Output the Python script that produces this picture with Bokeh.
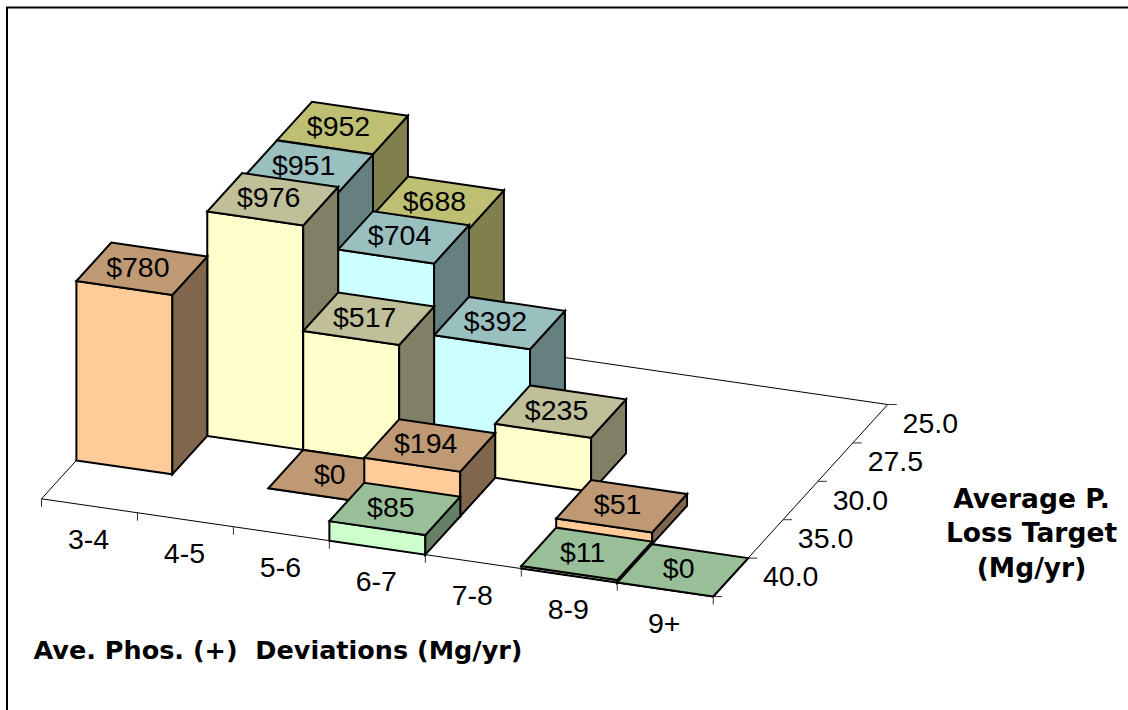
from bokeh.embed import file_html
from bokeh.models import Range1d
from bokeh.plotting import figure
from bokeh.resources import INLINE
from bokeh.core.properties import value

# Category labels along the two floor axes
deviation_bins = ["3-4", "4-5", "5-6", "6-7", "7-8", "8-9", "9+"]
loss_targets = ["40.0", "35.0", "30.0", "27.5", "25.0"]

# Cost per deviation bin, one list per loss target; None means no bar
costs_40_0 = [None, None, None, 85, None, 11, 0]
costs_35_0 = [780, None, 0, 194, None, 51, None]
costs_30_0 = [None, 976, 517, None, 235, None, None]
costs_27_5 = [None, 951, 704, 392, None, None, None]
costs_25_0 = [None, 952, 688, None, None, None, None]
series = [costs_40_0, costs_35_0, costs_30_0, costs_27_5, costs_25_0]

# Face colours per series: front, top, side
face_colors = [
    ("#CCFFCC", "#99BF99", "#668066"),
    ("#FFCC99", "#BF9973", "#80664D"),
    ("#FFFFCC", "#BFBF99", "#808066"),
    ("#CCFFFF", "#99BFBF", "#668080"),
    ("#FFFF99", "#BFBF73", "#80804D"),
]

LABEL_FONT = "Liberation Sans"
LABEL_SIZE = "28.5px"
TITLE_FONT = "DejaVu Sans"

# Oblique projection of the chart space onto the page
ORIGIN = (41.0, 498.3)
COL_STEP = (95.96, 13.96)
ROW_STEP = (34.9, -38.4)
PX_PER_DOLLAR = 0.230


def project(col, row, amount=0.0):
    x = ORIGIN[0] + col * COL_STEP[0] + row * ROW_STEP[0]
    y = ORIGIN[1] + col * COL_STEP[1] + row * ROW_STEP[1] - amount * PX_PER_DOLLAR
    return x, y


def polygon(*corners):
    pts = [project(*c) for c in corners]
    return [p[0] for p in pts], [p[1] for p in pts]


p = figure(
    width=1128, height=710, output_backend="svg", toolbar_location=None,
    x_range=Range1d(0, 1128), y_range=Range1d(710, 0),
    x_axis_type=None, y_axis_type=None, min_border=0,
    background_fill_color="white", border_fill_color="white",
)
p.grid.visible = False
p.outline_line_color = None

# Chart area border: top and left edges, the others fall off the page
p.line([1140, 6.5, 6.5], [7, 7, 722], line_color="black", line_width=2, line_join="miter")

# Floor outline
n_cols, n_rows = len(deviation_bins), len(loss_targets)
fx, fy = polygon((0, 0), (n_cols, 0), (n_cols, n_rows), (0, n_rows), (0, 0))
p.line(fx, fy, line_color="black", line_width=1)

# Tick marks under the front edge and to the right of the side edge
for c in range(n_cols + 1):
    x, y = project(c, 0)
    p.line([x, x], [y, y + 8], line_color="#333333", line_width=1)
for r in range(n_rows + 1):
    x, y = project(n_cols, r)
    p.line([x, x + 9], [y, y], line_color="#333333", line_width=1)

# Bars, painted from the back row forward and left to right
label_x, label_y, label_text = [], [], []
for r in range(n_rows - 1, -1, -1):
    front, top, side = face_colors[r]
    for c, amount in enumerate(series[r]):
        if amount is None:
            continue
        faces = [
            (front, polygon((c, r), (c + 1, r), (c + 1, r, amount), (c, r, amount))),
            (side, polygon((c + 1, r), (c + 1, r + 1), (c + 1, r + 1, amount), (c + 1, r, amount))),
            (top, polygon((c, r, amount), (c + 1, r, amount), (c + 1, r + 1, amount), (c, r + 1, amount))),
        ]
        for color, (xs, ys) in faces:
            p.patch(xs, ys, fill_color=color, line_color="black", line_width=2, line_join="miter")
        cx, cy = project(c + 0.5, r + 0.5, amount)
        label_x.append(cx - 4)
        label_y.append(cy - 2)
        label_text.append(f"${amount}")

p.text(
    label_x, label_y, text=label_text, text_font=value(LABEL_FONT), text_font_size=value(LABEL_SIZE),
    text_color="black", text_align="center", text_baseline="middle",
)

# Category labels
tick_x, tick_y = zip(*[project(c + 0.5, 0) for c in range(n_cols)])
p.text(
    [x - 1 for x in tick_x], [y + 33.5 for y in tick_y], text=deviation_bins,
    text_font=value(LABEL_FONT), text_font_size=value(LABEL_SIZE), text_color="black",
    text_align="center", text_baseline="middle",
)
row_x, row_y = zip(*[project(n_cols, r + 0.5) for r in range(n_rows)])
p.text(
    [x + 60 for x in row_x], [y - 0.5 for y in row_y], text=loss_targets,
    text_font=value(LABEL_FONT), text_font_size=value(LABEL_SIZE), text_color="black",
    text_align="center", text_baseline="middle",
)

# Axis titles
p.text(
    [33], [649], text=["Ave. Phos. (+) \u00a0Deviations (Mg/yr)"],
    text_font=value(TITLE_FONT), text_font_size=value("25.5px"), text_font_style="bold",
    text_color="black", text_align="left", text_baseline="middle",
)
p.text(
    [1031, 1031, 1031], [498, 532, 567], text=["Average P.", "Loss Target", "(Mg/yr)"],
    text_font=value(TITLE_FONT), text_font_size=value("26.5px"), text_font_style="bold",
    text_color="black", text_align="center", text_baseline="middle",
)

open("out.html", "w").write(file_html(p, INLINE))
